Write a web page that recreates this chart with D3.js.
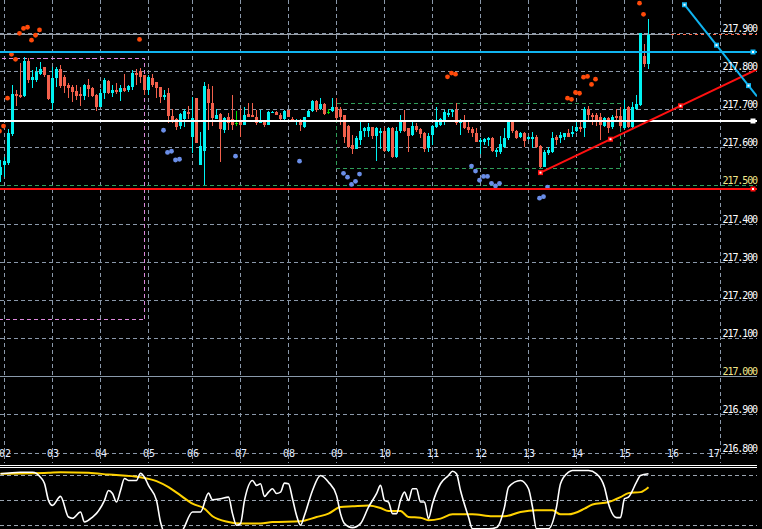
<!DOCTYPE html>
<html lang="en">
<head>
<meta charset="UTF-8">
<title>H2 candles</title>
<script src="https://d3js.org/d3.v7.min.js"></script>
<style>
  html, body { margin: 0; padding: 0; background: #000; overflow: hidden; }
  svg { display: block; }
  .price-label { font-family: "DejaVu Sans Mono", monospace; font-size: 10px; letter-spacing: -1.1px; fill: #fff; }
  .day-label { font-family: "DejaVu Sans Mono", monospace; font-size: 10px; fill: #e6eeff; }
</style>
</head>
<body>
<svg id="chart" width="762" height="529"></svg>
<script>
// ---- data ----
const days = ["02","03","04","05","06","07","08","09","10","11","12","13","14","15","16","17"];
const dayBars = [1,13,25,37,48,60,72,84,96,108,120,132,144,156,168,180];
const priceTicks = [216.8,216.9,217.0,217.1,217.2,217.3,217.4,217.5,217.6,217.7,217.8,217.9];

const barOpen = [217.528,217.555,217.559,217.636,217.741,217.738,217.735,217.828,217.777,217.779,
217.793,217.812,217.790,217.717,217.783,217.806,217.786,217.764,217.760,217.749,
217.742,217.735,217.764,217.756,217.738,217.707,217.743,217.775,217.744,217.751,
217.747,217.756,217.751,217.760,217.797,217.802,217.790,217.751,217.783,217.773,
217.760,217.734,217.744,217.683,217.675,217.657,217.675,217.694,217.628,217.730,
217.555,217.592,217.754,217.717,217.675,217.688,217.646,217.681,217.675,217.666,
217.670,217.659,217.688,217.685,217.680,217.664,217.669,217.661,217.691,217.694,
217.685,217.676,217.700,217.675,217.669,217.673,217.654,217.680,217.697,217.723,
217.702,217.715,217.695,217.696,217.708,217.703,217.686,217.658,217.607,217.598,
217.620,217.644,217.644,217.655,217.631,217.640,217.644,217.592,217.652,217.577,
217.644,217.667,217.651,217.633,217.658,217.649,217.638,217.600,217.633,217.655,
217.661,217.673,217.686,217.693,217.699,217.664,217.670,217.655,217.648,217.638,
217.614,217.616,217.620,217.625,217.588,217.588,217.603,217.625,217.668,217.644,
217.629,217.638,217.622,217.622,217.629,217.605,217.550,217.587,217.590,217.629,
217.625,217.629,217.638,217.636,217.645,217.655,217.651,217.703,217.686,217.686,
217.680,217.657,217.677,217.655,217.683,217.683,217.651,217.708,217.655,217.703,
217.712,217.841,217.820];
const barHigh = [217.568,217.576,217.649,217.764,217.751,217.822,217.838,217.835,217.804,217.812,
217.825,217.812,217.790,217.812,217.811,217.817,217.790,217.770,217.764,217.764,
217.760,217.767,217.780,217.760,217.741,217.753,217.782,217.777,217.764,217.770,
217.764,217.793,217.764,217.804,217.806,217.808,217.790,217.790,217.793,217.773,
217.760,217.751,217.756,217.701,217.677,217.692,217.701,217.709,217.733,217.730,
217.642,217.773,217.767,217.762,217.701,217.691,217.681,217.690,217.738,217.697,
217.704,217.707,217.717,217.717,217.700,217.700,217.674,217.697,217.697,217.697,
217.690,217.700,217.700,217.680,217.676,217.676,217.682,217.700,217.726,217.726,
217.730,217.717,217.702,217.730,217.730,217.707,217.686,217.661,217.634,217.631,
217.667,217.655,217.664,217.655,217.655,217.651,217.655,217.655,217.655,217.655,
217.686,217.699,217.651,217.673,217.664,217.652,217.641,217.638,217.661,217.708,
217.679,217.699,217.703,217.703,217.717,217.675,217.687,217.670,217.655,217.651,
217.625,217.626,217.629,217.629,217.599,217.631,217.651,217.670,217.673,217.646,
217.641,217.641,217.631,217.642,217.634,217.607,217.594,217.603,217.642,217.634,
217.642,217.639,217.648,217.657,217.668,217.668,217.708,217.709,217.690,217.690,
217.690,217.681,217.681,217.686,217.701,217.708,217.725,217.709,217.721,217.738,
217.901,217.871,217.938];
const barLow = [217.510,217.524,217.555,217.631,217.709,217.730,217.733,217.770,217.756,217.773,
217.790,217.786,217.725,217.699,217.760,217.756,217.743,217.730,217.721,217.725,
217.709,217.725,217.734,217.734,217.697,217.706,217.727,217.741,217.734,217.741,
217.723,217.747,217.747,217.751,217.764,217.769,217.738,217.738,217.760,217.730,
217.717,217.725,217.665,217.665,217.646,217.648,217.655,217.675,217.586,217.612,
217.555,217.502,217.646,217.657,217.675,217.563,217.639,217.646,217.646,217.657,
217.628,217.659,217.681,217.680,217.661,217.664,217.654,217.659,217.690,217.685,
217.674,217.673,217.680,217.669,217.659,217.643,217.652,217.680,217.695,217.695,
217.700,217.687,217.688,217.694,217.668,217.660,217.612,217.599,217.585,217.597,
217.607,217.629,217.629,217.623,217.565,217.598,217.590,217.590,217.574,217.574,
217.640,217.642,217.590,217.631,217.642,217.625,217.588,217.590,217.607,217.652,
217.658,217.661,217.681,217.681,217.660,217.633,217.649,217.640,217.629,217.614,
217.585,217.607,217.605,217.590,217.577,217.585,217.599,217.620,217.640,217.623,
217.625,217.603,217.620,217.599,217.599,217.546,217.549,217.581,217.587,217.607,
217.612,217.620,217.627,217.627,217.642,217.642,217.627,217.668,217.660,217.657,
217.620,217.654,217.638,217.648,217.668,217.651,217.648,217.651,217.651,217.699,
217.709,217.813,217.806];
const barClose = [217.549,217.565,217.638,217.741,217.735,217.733,217.828,217.777,217.785,217.799,
217.806,217.790,217.728,217.783,217.806,217.762,217.762,217.756,217.747,217.735,
217.735,217.764,217.753,217.735,217.707,217.743,217.777,217.744,217.751,217.747,
217.756,217.749,217.762,217.797,217.790,217.786,217.751,217.785,217.764,217.756,
217.734,217.738,217.683,217.673,217.655,217.688,217.697,217.688,217.678,217.613,
217.604,217.762,217.717,217.678,217.686,217.649,217.678,217.666,217.660,217.666,
217.661,217.687,217.682,217.680,217.665,217.669,217.659,217.694,217.695,217.687,
217.676,217.697,217.682,217.671,217.673,217.659,217.680,217.697,217.723,217.700,
217.715,217.688,217.695,217.706,217.678,217.681,217.629,217.603,217.598,217.626,
217.644,217.651,217.655,217.631,217.651,217.644,217.592,217.651,217.577,217.644,
217.667,217.644,217.631,217.658,217.646,217.635,217.598,217.631,217.658,217.667,
217.675,217.693,217.690,217.699,217.664,217.673,217.652,217.646,217.640,217.616,
217.620,217.623,217.625,217.592,217.594,217.609,217.625,217.668,217.644,217.625,
217.638,217.618,217.629,217.629,217.603,217.550,217.590,217.594,217.625,217.620,
217.634,217.638,217.629,217.642,217.655,217.648,217.703,217.686,217.680,217.674,
217.660,217.677,217.651,217.681,217.677,217.657,217.703,217.655,217.708,217.715,
217.900,217.820,217.896];

// dots above price (orange) and below price (blue)
const upperDotBars = [0,1,2,3,4,5,6,7,8,9,10,35,112,113,114,142,143,144,145,146,147,148,149,160,161];
const upperDotPrices = [217.644,217.657,217.730,217.845,217.832,217.900,217.913,217.916,217.882,217.895,
217.909,217.884,217.786,217.796,217.793,217.730,217.727,217.745,217.743,217.785,217.787,217.766,217.780,217.979,217.950];
const lowerDotBars = [41,42,43,44,45,59,75,86,87,88,89,90,118,119,120,121,122,123,124,125,135,136,137];
const lowerDotPrices = [217.646,217.588,217.591,217.568,217.570,217.578,217.565,217.533,217.523,217.504,217.512,217.531,
217.552,217.539,217.515,217.525,217.525,217.507,217.500,217.507,217.468,217.472,217.497];

// oscillator (lower panel)
const oscBars = [0,5,8,10,11,12,13,15,17,18,20,21,23,24,26,27,28,29,30,31,32,34,35,36,37,39,40,41,45,48,50,52,53,55,57,58,59,60,61,63,64,65,66,67,68,69,70,71,72,73,74,75,76,78,80,82,84,85,86,88,90,92,94,95,96,97,98,99,100,101,102,103,104,105,106,107,108,110,112,113,114,115,117,118,122,124,126,127,130,132,133,134,137,139,140,142,143,147,149,151,152,154,155,156,157,159,160,162];
const oscMain = [81.8,83.7,83.7,77.7,70.2,50,44,54.8,30.1,28.6,36.1,24.2,30.1,34.5,50,61.9,58.3,48,61.9,76.2,73.8,73.8,82.5,77.7,67.9,50,24.2,12,12,36.1,36.1,58.7,50.8,52,53.9,34.2,20.3,22.3,50,73.8,67.9,69.9,54.8,59.9,63.9,58.3,59.9,70.6,69.9,52,32.2,20.3,32.2,61.9,79.8,71.8,56,34.2,22.3,17.5,22.3,42,58,67.9,50,48,34.2,34.2,50,59.9,50,63.9,63.9,48,48,28.2,46.1,69.9,79.8,84.9,81.8,61.9,30.1,16,16,17.5,42,65.8,73.8,63.9,42,16,16,42,69.9,83.7,85.7,85.7,81.8,65.8,46.1,29.4,29.4,52,53.9,71.8,79.8,81.8];
const sigBars = [0,12,15,22,27,35,39,42,45,48,51,53,57,60,65,68,75,79,82,85,88,92,95,97,100,102,105,107,110,113,118,123,126,130,134,138,140,142,146,148,152,155,157,160,162];
const oscSignal = [81.8,83,83.7,83,80.9,77.7,73,65.8,56,46.1,40.1,31,24.2,22.3,22.3,24.2,25,30.1,34.2,42,42.9,44,41,37.3,37.3,30.1,29.4,26.2,28.2,33.3,33.3,31,31,36.1,38.1,38.1,33.3,33.3,40.1,45.2,48,53.9,58.7,59.9,65.8];
const oscLevels = [80, 50, 20];

// chart objects
const hLineCyan = 217.852, hLineWhite = 217.671, hLineRed = 217.493, hLineGreen = 217.500;
const bidPrice = 217.896;
const pinkBox = { bars: [-5, 36], prices: [217.835, 217.151] };
const greenBox = { bars: [84, 155], prices: [217.717, 217.546] };
const redTrend = { bars: [135, 170], prices: [217.535, 217.710] };
const blueTrend = { bars: [171, 187], prices: [217.975, 217.763] };

// ---- drawing ----
const W = 757, mainBottom = 463;
const svg = d3.select("#chart");
svg.append("rect").attr("width", 762).attr("height", 529).attr("fill", "#000");

const x = d3.scaleLinear().domain([0, 180]).range([0.5, 720.5]);
const y = d3.scaleLinear().domain([216.8, 217.9]).range([453, 33.35]);
const yo = d3.scaleLinear().domain([20, 80]).range([525.5, 475.3]);
const crisp = v => Math.round(v - 0.5) + 0.5;
const col = i => Math.floor(x(i));

const defs = svg.append("defs");
defs.append("clipPath").attr("id", "mainClip").append("rect").attr("x", 0).attr("y", 0).attr("width", W).attr("height", mainBottom);
defs.append("clipPath").attr("id", "oscClip").append("rect").attr("x", 0).attr("y", 468).attr("width", W).attr("height", 61);

const gridColor = "#8a98aa";
const grid = svg.append("g").attr("fill", "none").attr("stroke-width", 1).attr("shape-rendering", "crispEdges");

// horizontal price grid
grid.selectAll(".hg").data(priceTicks.filter(p => p !== 217.0)).enter().append("line")
  .attr("x1", 0).attr("x2", W)
  .attr("y1", d => crisp(y(d))).attr("y2", d => crisp(y(d)))
  .attr("stroke", gridColor).attr("stroke-dasharray", "4,3");
grid.append("line").attr("x1", 0).attr("x2", W)
  .attr("y1", crisp(y(217.0))).attr("y2", crisp(y(217.0)))
  .attr("stroke", "#8a9aab");

// vertical day grid
grid.selectAll(".vg").data(dayBars).enter().append("line")
  .attr("x1", d => col(d) + 0.5).attr("x2", d => col(d) + 0.5)
  .attr("y1", 0).attr("y2", mainBottom)
  .attr("stroke", gridColor).attr("stroke-dasharray", "4,3");

const main = svg.append("g").attr("clip-path", "url(#mainClip)");

// boxes
function box(b, color) {
  const x1 = col(b.bars[0]) + 0.5, x2 = col(b.bars[1]) + 0.5;
  const y1 = crisp(y(b.prices[0])), y2 = crisp(y(b.prices[1]));
  main.append("rect").attr("x", x1).attr("y", y1).attr("width", x2 - x1).attr("height", y2 - y1)
    .attr("fill", "none").attr("stroke", color).attr("stroke-dasharray", "4,3")
    .attr("shape-rendering", "crispEdges");
}
box(pinkBox, "#dd88dd");
box(greenBox, "#2f9e5a");

// green dashed level
main.append("line").attr("x1", 0).attr("x2", W)
  .attr("y1", crisp(y(hLineGreen))).attr("y2", crisp(y(hLineGreen)))
  .attr("stroke", "#2f9e5a").attr("stroke-dasharray", "4,3").attr("shape-rendering", "crispEdges");

// bid line (grey) then dashed part on the right
const bidY = crisp(y(bidPrice));
main.append("line").attr("x1", 0).attr("x2", 671).attr("y1", bidY).attr("y2", bidY)
  .attr("stroke", "#9aa0a8").attr("shape-rendering", "crispEdges");
main.append("line").attr("x1", 671).attr("x2", W).attr("y1", bidY).attr("y2", bidY)
  .attr("stroke", "#ff6a4a").attr("stroke-dasharray", "3,3").attr("shape-rendering", "crispEdges");

// candles
const bars = d3.range(barOpen.length);
const upColor = "#00f2f2", downColor = "#f2604c", dojiColor = "#00e000";
const candle = main.append("g").attr("shape-rendering", "crispEdges");
bars.forEach(i => {
  const o = barOpen[i], h = barHigh[i], l = barLow[i], c = barClose[i];
  const cx = col(i);
  const color = o === c ? dojiColor : (c > o ? upColor : downColor);
  const yh = Math.round(y(h)), yl = Math.round(y(l));
  candle.append("rect").attr("x", cx).attr("y", yh).attr("width", 1)
    .attr("height", Math.max(1, yl - yh)).attr("fill", color);
  const yt = Math.round(y(Math.max(o, c))), yb = Math.round(y(Math.min(o, c)));
  candle.append("rect").attr("x", cx - 1).attr("y", yt).attr("width", 3)
    .attr("height", Math.max(1, yb - yt)).attr("fill", color);
});

// dots
main.selectAll(".updot").data(upperDotBars).enter().append("circle")
  .attr("cx", d => x(d) - 1).attr("cy", (d, i) => y(upperDotPrices[i])).attr("r", 2.4)
  .attr("fill", "#ff4a0a");
main.selectAll(".lodot").data(lowerDotBars).enter().append("circle")
  .attr("cx", d => x(d) - 1).attr("cy", (d, i) => y(lowerDotPrices[i])).attr("r", 2.4)
  .attr("fill", "#6a8ee8");

// horizontal lines
function marker(xc, yc, color) {
  main.append("rect").attr("x", xc - 2.5).attr("y", yc - 2.5).attr("width", 5).attr("height", 5).attr("fill", color);
  main.append("rect").attr("x", xc - 1).attr("y", yc - 1).attr("width", 2).attr("height", 2).attr("fill", "#fff");
}
[[hLineCyan, "#10b4f0"], [hLineWhite, "#ffffff"], [hLineRed, "#ff1010"]].forEach(([p, color]) => {
  const yy = Math.round(y(p));
  main.append("rect").attr("x", 0).attr("y", yy - 1).attr("width", W).attr("height", 2).attr("fill", color);
  marker(753, yy, color);
});

// trend rays
function ray(t, color) {
  const x1 = x(t.bars[0]), y1 = y(t.prices[0]), x2 = x(t.bars[1]), y2 = y(t.prices[1]);
  const yEnd = y1 + (y2 - y1) * (W - x1) / (x2 - x1);
  main.append("line").attr("x1", x1).attr("y1", y1).attr("x2", W).attr("y2", yEnd)
    .attr("stroke", color).attr("stroke-width", 2);
  marker(x1, y1, color);
  marker((x1 + x2) / 2, (y1 + y2) / 2, color);
  marker(x2, y2, color);
}
ray(redTrend, "#ff1010");
ray(blueTrend, "#10b4f0");

// price labels
svg.selectAll(".price-label").data(priceTicks).enter().append("text")
  .attr("class", "price-label")
  .attr("x", W).attr("y", d => y(d) - 1.5)
  .attr("text-anchor", "end")
  .style("fill", d => (d === 217.0 || d === 217.5) ? "#f2e68c" : "#fff")
  .text(d => d.toFixed(3));

// day labels (last one kept clear of the price scale)
svg.selectAll(".day-label").data(days).enter().append("text")
  .attr("class", "day-label")
  .attr("x", (d, i) => i === days.length - 1 ? x(dayBars[i]) - 0.5 : x(dayBars[i]) + 0.5)
  .attr("y", 457)
  .attr("text-anchor", (d, i) => i === days.length - 1 ? "end" : "middle")
  .text(d => d);

// separator
[465.5, 467.5].forEach(v => svg.append("line").attr("x1", 0).attr("x2", W).attr("y1", v).attr("y2", v)
  .attr("stroke", "#fff").attr("shape-rendering", "crispEdges"));

// oscillator panel
const osc = svg.append("g").attr("clip-path", "url(#oscClip)");
osc.selectAll(".lvl").data(oscLevels).enter().append("line")
  .attr("x1", 0).attr("x2", W)
  .attr("y1", d => crisp(yo(d))).attr("y2", d => crisp(yo(d)))
  .attr("stroke", "#9aa4b0").attr("stroke-dasharray", "4,3").attr("shape-rendering", "crispEdges");

const oscLine = d3.line().curve(d3.curveMonotoneX).x(d => x(d[0])).y(d => yo(d[1]));
osc.append("path").datum(sigBars.map((b, i) => [b, oscSignal[i]]))
  .attr("d", oscLine).attr("fill", "none").attr("stroke", "#ffd200").attr("stroke-width", 2);
osc.append("path").datum(oscBars.map((b, i) => [b, oscMain[i]]))
  .attr("d", oscLine).attr("fill", "none").attr("stroke", "#fff").attr("stroke-width", 1.6);
</script>
</body>
</html>
